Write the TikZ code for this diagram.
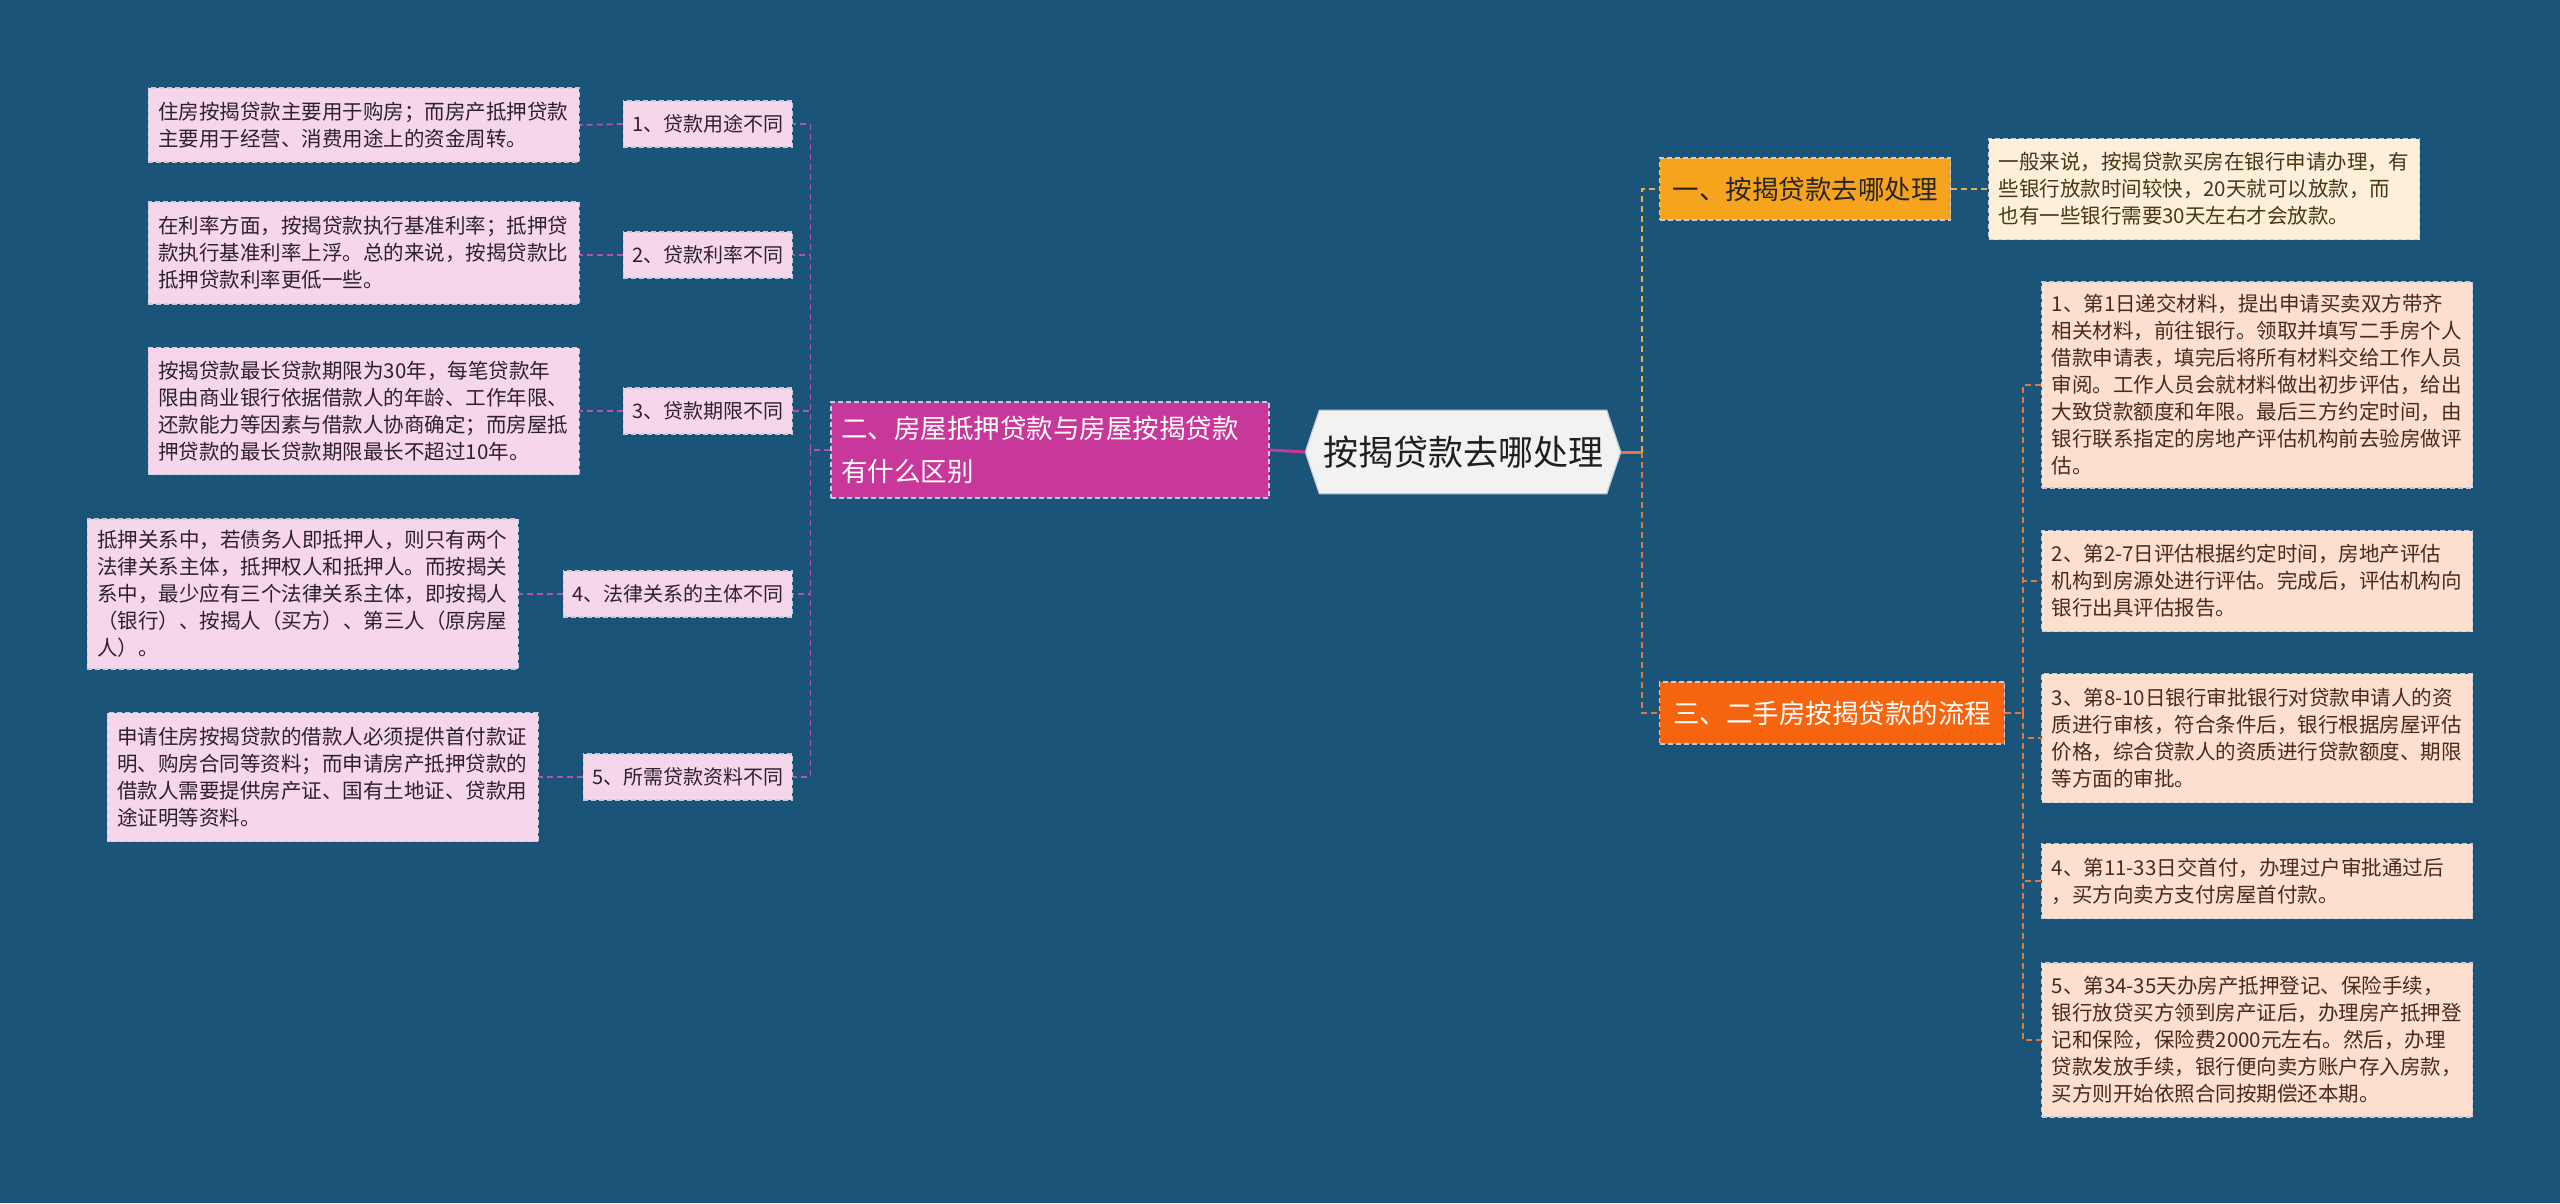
\documentclass[tikz,border=0pt]{standalone}
\usepackage{fontspec}
\setmainfont{Noto Sans CJK SC}
\usetikzlibrary{backgrounds,calc}
\definecolor{bgc}{HTML}{1A5479}
\definecolor{pinkc}{HTML}{F5D6EB}
\definecolor{pinktext}{HTML}{2D2030}
\definecolor{magc}{HTML}{C8379A}
\definecolor{magline}{HTML}{B452B2}
\definecolor{yelc}{HTML}{F6A41E}
\definecolor{yelline}{HTML}{E8B04A}
\definecolor{creamc}{HTML}{FDF0DA}
\definecolor{creamtext}{HTML}{4A3515}
\definecolor{orc}{HTML}{F5640F}
\definecolor{orline}{HTML}{E07A3C}
\definecolor{peachc}{HTML}{FDDFD0}
\definecolor{peachtext}{HTML}{4A2A18}
\definecolor{rootc}{HTML}{F2F2F2}
\definecolor{borderc}{HTML}{C8CCD8}
\tikzset{
  boxborder/.style={draw=borderc, line width=1.2pt, dash pattern=on 5pt off 3pt},
  descbox/.style={boxborder, text width=411pt, align=left, inner xsep=10pt, inner ysep=6pt,
    font=\fontsize{20.5}{27}\selectfont},
  pinkdesc/.style={descbox, fill=pinkc, text=pinktext, anchor=east},
  creamdesc/.style={descbox, fill=creamc, text=creamtext},
  peachdesc/.style={descbox, fill=peachc, text=peachtext, anchor=west},
  lab/.style={boxborder, fill=pinkc, text=pinktext, anchor=east, minimum height=46pt,
    inner xsep=9pt, font=\fontsize{20}{24}\selectfont},
  mainbox/.style={boxborder, minimum height=62pt, inner xsep=10pt, font=\fontsize{26.5}{32}\selectfont},
  magconn/.style={magline, line width=1.8pt, dash pattern=on 6pt off 4pt},
  yelconn/.style={yelline, line width=1.8pt, dash pattern=on 6pt off 4pt},
  orconn/.style={orline, line width=1.8pt, dash pattern=on 6pt off 4pt},
}
\begin{document}
\begin{tikzpicture}[x=1pt,y=-1pt]
\useasboundingbox (0,0) rectangle (2560,1203);

% root
\node[minimum width=315pt, minimum height=83pt, inner sep=0pt, text=black!88,
  font=\fontsize{35}{40}\selectfont] (root) at (1463,452) {按揭贷款去哪处理};
\begin{scope}[on background layer]
  \fill[bgc] (0,0) rectangle (2560,1203);
  \filldraw[fill=rootc, draw=borderc, line width=1.2pt] (root.west) -- ([xshift=14pt]root.north west) -- ([xshift=-14pt]root.north east) -- (root.east) -- ([xshift=-14pt]root.south east) -- ([xshift=14pt]root.south west) -- cycle;
\end{scope}

% left main branch
\node[mainbox, fill=magc, text=white, minimum width=438pt, minimum height=96pt, text width=418pt, align=left,
  font=\fontsize{26.5}{43}\selectfont] (m) at (1050,450) {二、房屋抵押贷款与房屋按揭贷款\\有什么区别};

% left labels
\node[lab] (L1) at (793,124) {1、贷款用途不同};
\node[lab] (L2) at (793,255) {2、贷款利率不同};
\node[lab] (L3) at (793,411) {3、贷款期限不同};
\node[lab] (L4) at (793,594) {4、法律关系的主体不同};
\node[lab] (L5) at (793,777) {5、所需贷款资料不同};

% left descriptions
\node[pinkdesc, minimum height=74pt] (D1) at (580,125) {住房按揭贷款主要用于购房；而房产抵押贷款\\主要用于经营、消费用途上的资金周转。};
\node[pinkdesc, minimum height=102pt] (D2) at (580,253) {在利率方面，按揭贷款执行基准利率；抵押贷\\款执行基准利率上浮。总的来说，按揭贷款比\\抵押贷款利率更低一些。};
\node[pinkdesc, minimum height=127pt] (D3) at (580,411) {按揭贷款最长贷款期限为30年，每笔贷款年\\限由商业银行依据借款人的年龄、工作年限、\\还款能力等因素与借款人协商确定；而房屋抵\\押贷款的最长贷款期限最长不超过10年。};
\node[pinkdesc, minimum height=150pt] (D4) at (519,594) {抵押关系中，若债务人即抵押人，则只有两个\\法律关系主体，抵押权人和抵押人。而按揭关\\系中，最少应有三个法律关系主体，即按揭人\\（银行）、按揭人（买方）、第三人（原房屋\\人）。};
\node[pinkdesc, minimum height=129pt] (D5) at (539,777) {申请住房按揭贷款的借款人必须提供首付款证\\明、购房合同等资料；而申请房产抵押贷款的\\借款人需要提供房产证、国有土地证、贷款用\\途证明等资料。};

% right main branches
\node[mainbox, fill=yelc, text=black!85, minimum width=291pt] (R1) at (1805,189) {一、按揭贷款去哪处理};
\node[mainbox, fill=orc, text=white, minimum width=345pt] (R3) at (1832,713) {三、二手房按揭贷款的流程};

\node[creamdesc, minimum height=101pt] (R1d) at (2204,189) {一般来说，按揭贷款买房在银行申请办理，有\\些银行放款时间较快，20天就可以放款，而\\也有一些银行需要30天左右才会放款。};

\node[peachdesc, minimum height=206pt] (P1) at (2041,385) {1、第1日递交材料，提出申请买卖双方带齐\\相关材料，前往银行。领取并填写二手房个人\\借款申请表，填完后将所有材料交给工作人员\\审阅。工作人员会就材料做出初步评估，给出\\大致贷款额度和年限。最后三方约定时间，由\\银行联系指定的房地产评估机构前去验房做评\\估。};
\node[peachdesc, minimum height=101pt] (P2) at (2041,581) {2、第2-7日评估根据约定时间，房地产评估\\机构到房源处进行评估。完成后，评估机构向\\银行出具评估报告。};
\node[peachdesc, minimum height=129pt] (P3) at (2041,738) {3、第8-10日银行审批银行对贷款申请人的资\\质进行审核，符合条件后，银行根据房屋评估\\价格，综合贷款人的资质进行贷款额度、期限\\等方面的审批。};
\node[peachdesc, minimum height=75pt] (P4) at (2041,881) {4、第11-33日交首付，办理过户审批通过后\\，买方向卖方支付房屋首付款。};
\node[peachdesc, minimum height=154pt] (P5) at (2041,1040) {5、第34-35天办房产抵押登记、保险手续，\\银行放贷买方领到房产证后，办理房产抵押登\\记和保险，保险费2000元左右。然后，办理\\贷款发放手续，银行便向卖方账户存入房款，\\买方则开始依照合同按期偿还本期。};

% connectors left
\begin{scope}[on background layer]
\draw[magc, line width=3pt] (root.west) -- (m.east);
\coordinate (ls) at ($(m.west)+(-20,0)$);
\draw[magconn] (m.west) -- (ls);
\foreach \n in {L1,L2,L3,L4,L5} \draw[magconn] (ls) |- (\n.east);
\draw[magconn] (L1.west) -- (D1.east);
\draw[magconn] (L2.west) -- (D2.east |- L2.west);
\draw[magconn] (L3.west) -- (D3.east |- L3.west);
\draw[magconn] (L4.west) -- (D4.east |- L4.west);
\draw[magconn] (L5.west) -- (D5.east |- L5.west);

% connectors right
\coordinate (rs) at ($(root.east)+(21,0)$);
\draw[orline, line width=3pt] (root.east) -- (rs);
\draw[yelconn] (rs) |- (R1.west);
\draw[orconn] (rs) |- (R3.west);
\draw[yelconn] (R1.east) -- (R1d.west);
\coordinate (rs3) at ($(R3.east)+(18,0)$);
\draw[orconn] (R3.east) -- (rs3);
\foreach \n in {P1,P2,P3,P4,P5} \draw[orconn] (rs3) |- (\n.west);
\end{scope}
\end{tikzpicture}
\end{document}
